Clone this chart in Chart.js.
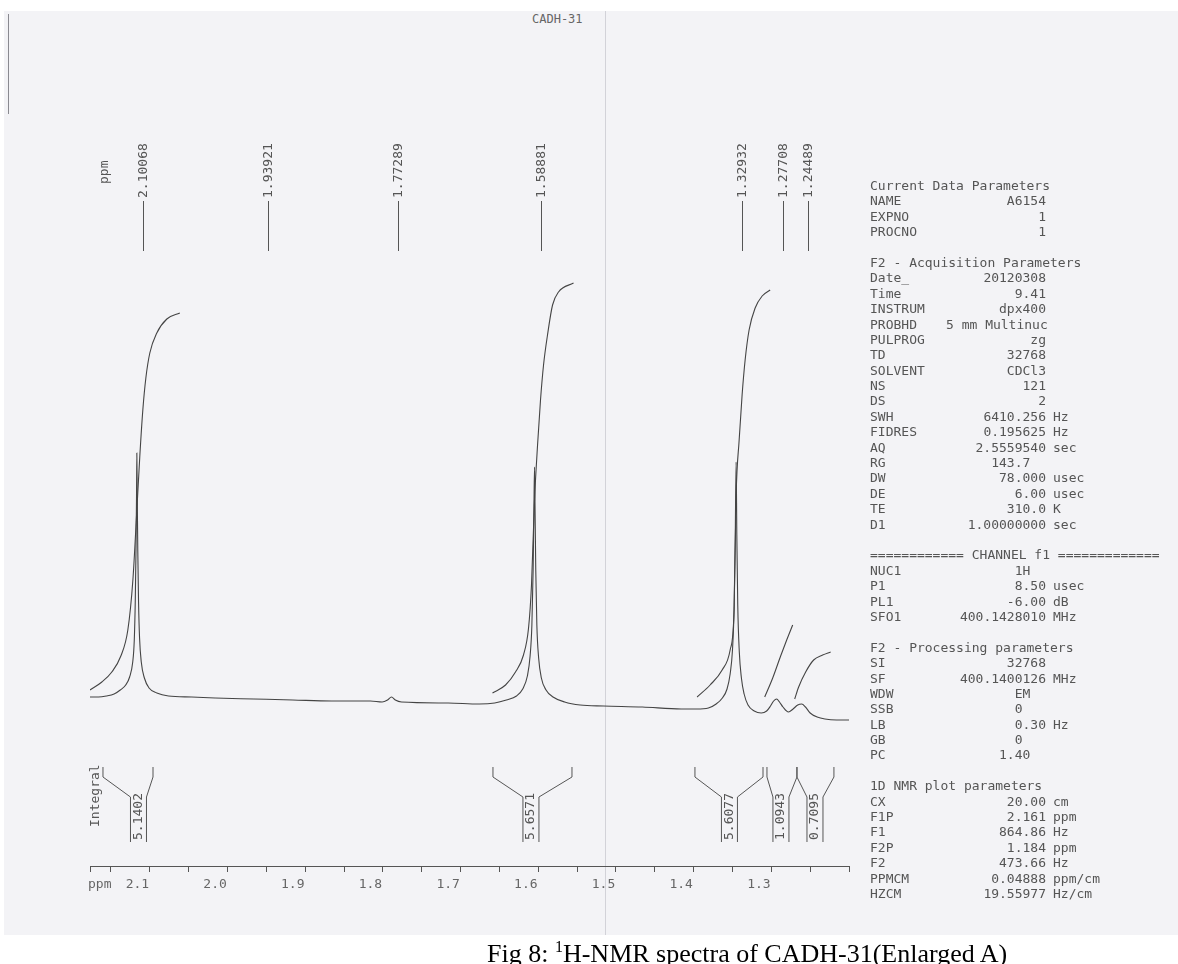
<!DOCTYPE html>
<html>
<head>
<meta charset="utf-8">
<title>CADH-31 1H NMR</title>
<script src="https://cdn.jsdelivr.net/npm/chart.js@4.4.1/dist/chart.umd.min.js"></script>
<style>
  body { margin: 0; width: 1178px; height: 964px; background: #fff; position: relative; overflow: hidden; font-family: "DejaVu Sans Mono", monospace; }
  #paper { position: absolute; left: 4px; top: 11px; width: 1174px; height: 924px; background: #f3f3f6; }
  #crease { position: absolute; left: 605px; top: 11px; width: 1px; height: 924px; background: #d2d2d8; }
  #edge { position: absolute; left: 8px; top: 14px; width: 1px; height: 100px; background: #8a8a90; }
  canvas { position: absolute; left: 0; top: 0; }
  #title { position: absolute; left: 532px; top: 12px; font-size: 12px; color: #666; }
  #params { position: absolute; left: 870px; top: 178px; font-size: 13px; line-height: 15.4px; color: #555; white-space: pre; }
  #params div { height: 15.4px; }
  #params span { display: inline-block; }
  .k { width: 76px; }
  .v { width: 100px; text-align: right; }
  .u { padding-left: 7px; }
  #caption { position: absolute; left: 487px; top: 938px; font-family: "Liberation Serif", serif; font-size: 26px; color: #000; white-space: nowrap; }
  #caption sup { font-size: 16px; }
</style>
</head>
<body>
<div id="paper"></div>
<div id="crease"></div>
<div id="edge"></div>
<div id="title">CADH-31</div>
<canvas id="nmr" width="1178" height="964"></canvas>
<div id="params"></div>
<div id="caption">Fig 8: <sup>1</sup>H-NMR spectra of CADH-31(Enlarged A)</div>

<script>
/***********************
 * SPECTRUM DATA (ppm / intensity, arbitrary units)
 ***********************/
const specPpm = [
  2.161, 2.150, 2.140, 2.130, 2.122, 2.115, 2.110, 2.106, 2.1040, 2.1027, 2.1018, 2.1011, 2.1007,
  2.1002, 2.0995, 2.0985, 2.0972, 2.0950, 2.0910, 2.0850, 2.0750, 2.0600, 2.0300, 2.000, 1.950,
  1.900, 1.850, 1.800, 1.785, 1.778, 1.7729, 1.768, 1.760, 1.700, 1.660,
  1.640, 1.625, 1.612, 1.604, 1.598, 1.5945, 1.5922, 1.5906, 1.5896, 1.5888,
  1.5881, 1.5872, 1.5858, 1.5835, 1.5800, 1.5740, 1.5650, 1.5500, 1.5300, 1.5000, 1.4500, 1.4000, 1.3800,
  1.3650, 1.3550, 1.3470, 1.3410, 1.3370, 1.3340, 1.3318, 1.3304, 1.3293,
  1.3284, 1.3272, 1.3252, 1.3225, 1.3190, 1.3140, 1.3060, 1.2970,
  1.2900, 1.2850, 1.2810, 1.2771, 1.2735, 1.2690, 1.2620,
  1.2560, 1.2500, 1.2449, 1.2400, 1.2340, 1.2250, 1.2150, 1.2000, 1.1840
];
const specInt = [
  3, 3, 4, 6, 10, 15, 23, 38, 60, 100, 150, 205, 247,
  205, 150, 98, 62, 38, 22, 12, 7, 4, 3, 2, 1,
  0, -1, -1, -2, 0, 3, 0, -2, -3, -4,
  -3, 0, 4, 11, 24, 44, 75, 130, 190, 233,
  190, 130, 75, 42, 22, 10, 3, -2, -5, -6, -7, -9, -9,
  -8, -4, 2, 11, 26, 50, 95, 165, 238,
  165, 95, 48, 22, 6, -5, -11, -13,
  -11, -6, -1, 1, -2, -7, -12,
  -9, -5, -4, -7, -13, -17, -19, -20, -20
];

// integral traces
const int1Ppm = [2.1612, 2.1457, 2.1329, 2.1213, 2.1123, 2.1058, 2.1007, 2.0968, 2.0930, 2.0891, 2.0840, 2.0750, 2.0621, 2.0454];
const int1Val = [10, 18, 28, 44, 70, 120, 190, 245, 290, 322, 347, 367, 381, 387];
const int2Ppm = [1.6429, 1.6261, 1.6133, 1.6030, 1.5965, 1.5927, 1.5888, 1.5849, 1.5811, 1.5772, 1.5721, 1.5656, 1.5579, 1.5386];
const int2Val = [7, 15, 28, 45, 72, 115, 200, 255, 300, 335, 365, 395, 408, 417];
const int3Ppm = [1.3795, 1.3628, 1.3473, 1.3370, 1.3319, 1.3293, 1.3254, 1.3216, 1.3177, 1.3126, 1.3048, 1.2958, 1.2855];
const int3Val = [3, 15, 30, 50, 90, 205, 260, 305, 340, 370, 392, 404, 410];
const int4Ppm = [1.2925, 1.2822, 1.2720, 1.2642, 1.2565];
const int4Val = [3, 22, 44, 60, 75];
const int5Ppm = [1.2539, 1.2488, 1.2398, 1.2295, 1.2179, 1.2076];
const int5Val = [1, 13, 28, 40, 45, 48];

// peak picking labels
const peakPpm = [2.10068, 1.93921, 1.77289, 1.58881, 1.32932, 1.27708, 1.24489];

// integral regions
const integFrom = [2.1443, 1.6423, 1.3823, 1.2896, 1.2510];
const integTo = [2.0799, 1.5406, 1.2947, 1.2510, 1.2034];
const integMid = [2.0986, 1.5934, 1.3379, 1.2716, 1.2278];
const integText = ["5.1402", "5.6571", "5.6077", "1.0943", "0.7095"];

// axis
const ppmMin = 1.184;
const ppmMax = 2.161;
const tickValues = [2.1, 2.0, 1.9, 1.8, 1.7, 1.6, 1.5, 1.4, 1.3];
const tickLabels = ["2.1", "2.0", "1.9", "1.8", "1.7", "1.6", "1.5", "1.4", "1.3"];

/***********************
 * PARAMETER PANEL
 ***********************/
const paramRows = [
  ["Current Data Parameters"],
  ["NAME", "A6154", ""],
  ["EXPNO", "1", ""],
  ["PROCNO", "1", ""],
  [""],
  ["F2 - Acquisition Parameters"],
  ["Date_", "20120308", ""],
  ["Time", "9.41", ""],
  ["INSTRUM", "dpx400", ""],
  ["PROBHD", "5 mm Multinuc", ""],
  ["PULPROG", "zg", ""],
  ["TD", "32768", ""],
  ["SOLVENT", "CDCl3", ""],
  ["NS", "121", ""],
  ["DS", "2", ""],
  ["SWH", "6410.256", "Hz"],
  ["FIDRES", "0.195625", "Hz"],
  ["AQ", "2.5559540", "sec"],
  ["RG", "143.7  ", ""],
  ["DW", "78.000", "usec"],
  ["DE", "6.00", "usec"],
  ["TE", "310.0", "K"],
  ["D1", "1.00000000", "sec"],
  [""],
  ["============ CHANNEL f1 ============="],
  ["NUC1", "1H  ", ""],
  ["P1", "8.50", "usec"],
  ["PL1", "-6.00", "dB"],
  ["SFO1", "400.1428010", "MHz"],
  [""],
  ["F2 - Processing parameters"],
  ["SI", "32768", ""],
  ["SF", "400.1400126", "MHz"],
  ["WDW", "EM  ", ""],
  ["SSB", "0   ", ""],
  ["LB", "0.30", "Hz"],
  ["GB", "0   ", ""],
  ["PC", "1.40  ", ""],
  [""],
  ["1D NMR plot parameters"],
  ["CX", "20.00", "cm"],
  ["F1P", "2.161", "ppm"],
  ["F1", "864.86", "Hz"],
  ["F2P", "1.184", "ppm"],
  ["F2", "473.66", "Hz"],
  ["PPMCM", "0.04888", "ppm/cm"],
  ["HZCM", "19.55977", "Hz/cm"]
];

document.getElementById("params").innerHTML = paramRows.map(r =>
  r.length === 1
    ? `<div>${r[0]}</div>`
    : `<div><span class="k">${r[0]}</span><span class="v">${r[1]}</span><span class="u">${r[2]}</span></div>`
).join("");

/***********************
 * CHART
 ***********************/
const pts = (xs, ys) => xs.map((x, i) => ({ x, y: ys[i] }));
const INK = "#444";

const annotations = {
  id: "annotations",
  afterDraw(chart) {
    const ctx = chart.ctx;
    const xs = chart.scales.x;
    const seg = (x1, y1, x2, y2) => { ctx.beginPath(); ctx.moveTo(x1, y1); ctx.lineTo(x2, y2); ctx.stroke(); };
    const vtext = (t, x, y) => {
      ctx.save(); ctx.translate(x, y); ctx.rotate(-Math.PI / 2);
      ctx.textAlign = "left"; ctx.textBaseline = "middle"; ctx.fillText(t, 0, 0); ctx.restore();
    };
    ctx.save();
    ctx.strokeStyle = "#555";
    ctx.fillStyle = "#555";
    ctx.lineWidth = 1;
    ctx.font = '13px "DejaVu Sans Mono"';

    // peak labels along the top
    peakPpm.forEach(p => {
      const x = Math.round(xs.getPixelForValue(p) + 6) + 0.5;
      seg(x, 201, x, 251);
      vtext(p.toFixed(5), x, 198);
    });
    vtext("ppm", Math.round(xs.getPixelForValue(peakPpm[0])) - 32, 184);

    // integral brackets
    integText.forEach((t, i) => {
      const x0 = xs.getPixelForValue(integFrom[i]);
      const x1 = xs.getPixelForValue(integTo[i]);
      const xc = xs.getPixelForValue(integMid[i]);
      const w = 8;
      ctx.beginPath();
      ctx.moveTo(x0, 767); ctx.lineTo(x0, 777); ctx.lineTo(xc - w, 797); ctx.lineTo(xc - w, 842);
      ctx.moveTo(x1, 767); ctx.lineTo(x1, 777); ctx.lineTo(xc + w, 797); ctx.lineTo(xc + w, 842);
      ctx.stroke();
      vtext(t, xc, 840);
    });
    vtext("Integral", 96, 827);

    // axis labels
    const yAxis = xs.top;
    ctx.fillStyle = "#666";
    ctx.textAlign = "center"; ctx.textBaseline = "middle";
    tickValues.forEach((v, i) => ctx.fillText(tickLabels[i], xs.getPixelForValue(v), yAxis + 19));
    ctx.textAlign = "left";
    ctx.fillText("ppm", 88, yAxis + 19);
    ctx.restore();
  }
};

const lineDs = (data) => ({
  data, borderColor: INK, borderWidth: 1.1, pointRadius: 0,
  cubicInterpolationMode: "monotone", fill: false
});

new Chart(document.getElementById("nmr"), {
  type: "line",
  data: {
    datasets: [
      lineDs(pts(specPpm, specInt)),
      lineDs(pts(int1Ppm, int1Val)),
      lineDs(pts(int2Ppm, int2Val)),
      lineDs(pts(int3Ppm, int3Val)),
      lineDs(pts(int4Ppm, int4Val)),
      lineDs(pts(int5Ppm, int5Val))
    ]
  },
  options: {
    responsive: false,
    animation: false,
    layout: { padding: { left: 90, right: 329, top: 100, bottom: 92 } },
    plugins: { legend: { display: false }, tooltip: { enabled: false } },
    scales: {
      x: {
        type: "linear",
        reverse: true,
        min: ppmMin,
        max: ppmMax,
        bounds: "data",
        border: { display: true, color: "#555", width: 1 },
        grid: { display: true, drawOnChartArea: false, drawTicks: true, tickLength: 6, color: "#555" },
        ticks: { display: false, stepSize: 0.05, includeBounds: false, autoSkip: false }
      },
      y: { display: false, min: -166, max: 600 }
    }
  },
  plugins: [annotations]
});
</script>
</body>
</html>
